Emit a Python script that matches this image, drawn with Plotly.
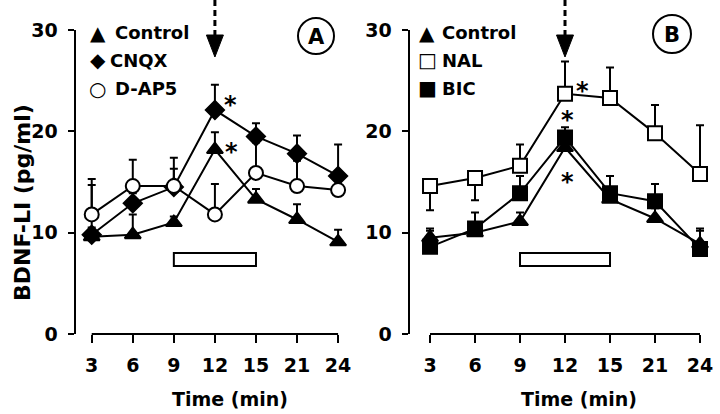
import plotly.graph_objects as go

# ---------------- data ----------------
times = ['3', '6', '9', '12', '15', '21', '24']

# Panel A
ctrl_a = [9.6, 9.8, 11.0, 18.2, 13.3, 11.3, 9.1]
ctrl_a_err = [0.9, 2.0, 0.6, 1.7, 1.0, 1.5, 1.2]
cnqx = [9.8, 12.9, 14.5, 22.1, 19.5, 17.8, 15.6]
cnqx_err = [4.9, 1.0, 1.8, 2.5, 1.3, 1.8, 3.1]
dap5 = [11.8, 14.6, 14.6, 11.8, 15.9, 14.6, 14.2]
dap5_err = [3.5, 2.6, 2.8, 3.0, 3.0, 2.5, 1.0]

# Panel B
ctrl_b = [9.5, 10.0, 11.1, 18.4, 13.3, 11.4, 8.9]
ctrl_b_err = [0.9, 0.8, 0.9, 1.2, 0.8, 1.0, 1.3]
nal = [14.6, 15.4, 16.6, 23.7, 23.3, 19.8, 15.8]
nal_err = [0.0, 0.0, 2.1, 3.2, 3.0, 2.8, 4.8]
nal_err_minus = [2.4, 2.2, 0.0, 0.0, 0.0, 0.0, 0.0]
bic = [8.6, 10.4, 13.9, 19.4, 13.9, 13.1, 8.4]
bic_err = [1.6, 1.6, 1.7, 1.0, 1.7, 1.7, 2.0]

y_ticks = [0, 10, 20, 30]
stim_start, stim_end = '9', '15'   # open bar (treatment period)
bar_low, bar_high = 6.7, 8.0
arrow_time = '12'

FONT = 'DejaVu Sans'
W, H = 720, 414
MT, MB = 30, 80
PH = H - MT - MB


def px(x):
    return x / W


def py(y):
    return (H - MB - y) / PH


fig = go.Figure()


def add_series(x, y, err, symbol, fill, xa, ya, size=13, errminus=None):
    ey = dict(type='data', array=err, symmetric=False,
              arrayminus=errminus if errminus is not None else [0] * len(err),
              thickness=2, width=4, color='black')
    fig.add_trace(go.Scatter(
        x=x, y=y, mode='lines+markers', xaxis=xa, yaxis=ya,
        line=dict(color='black', width=2),
        marker=dict(symbol=symbol, size=size, color=fill,
                    line=dict(color='black', width=2)),
        error_y=ey, showlegend=False, cliponaxis=False))


add_series(times, ctrl_a, ctrl_a_err, 'triangle-up', 'black', 'x', 'y', size=14)
add_series(times, cnqx, cnqx_err, 'diamond', 'black', 'x', 'y', size=14)
add_series(times, dap5, dap5_err, 'circle', 'white', 'x', 'y', size=14)

add_series(times, ctrl_b, ctrl_b_err, 'triangle-up', 'black', 'x2', 'y2', size=14)
add_series(times, nal, nal_err, 'square', 'white', 'x2', 'y2', size=14,
           errminus=nal_err_minus)
add_series(times, bic, bic_err, 'square', 'black', 'x2', 'y2', size=14)

tickfont = dict(family=FONT, size=19, color='black', weight='bold')

common_x = dict(type='category', categoryorder='array', categoryarray=times,
                showline=False, showgrid=False, zeroline=False,
                ticks='outside', ticklen=8, tickwidth=2, tickcolor='black',
                tickfont=tickfont, ticklabelstandoff=6)
common_y = dict(range=[0, 30], tickvals=y_ticks, showline=True, linewidth=2,
                linecolor='black', showgrid=False, zeroline=False,
                ticks='outside', ticklen=6, tickwidth=2, tickcolor='black',
                tickfont=tickfont, domain=[0, 1], ticklabelstandoff=6)

fig.update_layout(
    width=W, height=H,
    margin=dict(l=0, r=0, t=MT, b=MB),
    paper_bgcolor='white', plot_bgcolor='white',
    font=dict(family=FONT, color='black', weight='bold'),
    xaxis=dict(common_x, domain=[75.5 / W, 350 / W], range=[-0.395, 6.29], anchor='y'),
    yaxis=dict(common_y, anchor='x'),
    xaxis2=dict(common_x, domain=[409.5 / W, 718 / W], range=[-0.456, 6.4], anchor='y2'),
    yaxis2=dict(common_y, anchor='x2'),
)

shapes = []
annotations = []
i_arrow = times.index(arrow_time)
for xr, yr, half in (('x', 'y', 0.207), ('x2', 'y2', 0.189)):
    # x axis line from first to last category
    shapes.append(dict(type='line', xref=xr, yref='paper', x0=0, x1=len(times) - 1,
                       y0=0, y1=0, line=dict(color='black', width=2)))
    # open treatment bar
    shapes.append(dict(type='rect', xref=xr, yref=yr,
                       x0=times.index(stim_start), x1=times.index(stim_end),
                       y0=bar_low, y1=bar_high,
                       line=dict(color='black', width=2), fillcolor='white'))
    # dashed arrow
    shapes.append(dict(type='line', xref=xr, yref='paper', x0=i_arrow, x1=i_arrow,
                       y0=py(0), y1=py(36),
                       line=dict(color='black', width=3, dash='6px,4px')))
    shapes.append(dict(type='path', xref=xr, yref='paper',
                       path=f'M {i_arrow - half},{py(35)} L {i_arrow + half},{py(35)} '
                            f'L {i_arrow},{py(57)} Z',
                       fillcolor='black', line=dict(color='black', width=1)))

# panel label circles
for cx, cy, r, lab in ((316, 36, 18, 'A'), (672, 34, 19, 'B')):
    shapes.append(dict(type='circle', xref='paper', yref='paper',
                       x0=px(cx - r), x1=px(cx + r), y0=py(cy + r), y1=py(cy - r),
                       line=dict(color='black', width=2)))
    annotations.append(dict(text=lab, xref='paper', yref='paper', x=px(cx), y=py(cy + 1),
                            showarrow=False, xanchor='center', yanchor='middle',
                            font=dict(family=FONT, size=21, weight='bold')))

# legends (text-style)
legend_a = [('▲', 'Control', 33, 113), ('◆', 'CNQX', 60, 108), ('○', 'D-AP5', 89, 113)]
legend_b = [('▲', 'Control', 33, 440), ('□', 'NAL', 60, 440), ('■', 'BIC', 88, 440)]
for items, sx in ((legend_a, 98), (legend_b, 427)):
    for sym, lab, yy, tx in items:
        annotations.append(dict(text=sym, xref='paper', yref='paper', x=px(sx), y=py(yy),
                                showarrow=False, xanchor='center', yanchor='middle',
                                font=dict(family=FONT, size=20)))
        annotations.append(dict(text=lab, xref='paper', yref='paper', x=px(tx), y=py(yy),
                                showarrow=False, xanchor='left', yanchor='middle',
                                font=dict(family=FONT, size=18, weight='bold')))

# significance asterisks (anchored on data points, shifted in pixels)
stars = [('x', 'y', cnqx, 16, 10), ('x', 'y', ctrl_a, 17, 3),
         ('x2', 'y2', nal, 17, 8), ('x2', 'y2', bic, 2, 22), ('x2', 'y2', bic, 2, -40)]
i12 = times.index('12')
for xr, yr, series, dx, dy in stars:
    annotations.append(dict(text='<b>*</b>', xref=xr, yref=yr, x=i12, y=series[i12],
                            xshift=dx, yshift=dy - 5, showarrow=False,
                            xanchor='center', yanchor='middle',
                            font=dict(family=FONT, size=24, color='black')))

# axis titles
annotations.append(dict(text='BDNF-LI (pg/ml)', xref='paper', yref='paper',
                        x=px(22), y=py(203), textangle=-90, showarrow=False,
                        xanchor='center', yanchor='middle',
                        font=dict(family=FONT, size=22, weight='bold')))
for cx in (230, 579):
    annotations.append(dict(text='Time (min)', xref='paper', yref='paper',
                            x=px(cx), y=py(399), showarrow=False,
                            xanchor='center', yanchor='middle',
                            font=dict(family=FONT, size=19, weight='bold')))

fig.update_layout(shapes=shapes, annotations=annotations)
fig.write_html('out.html', config={'displayModeBar': False},
               post_script="document.body.style.margin='0';")
